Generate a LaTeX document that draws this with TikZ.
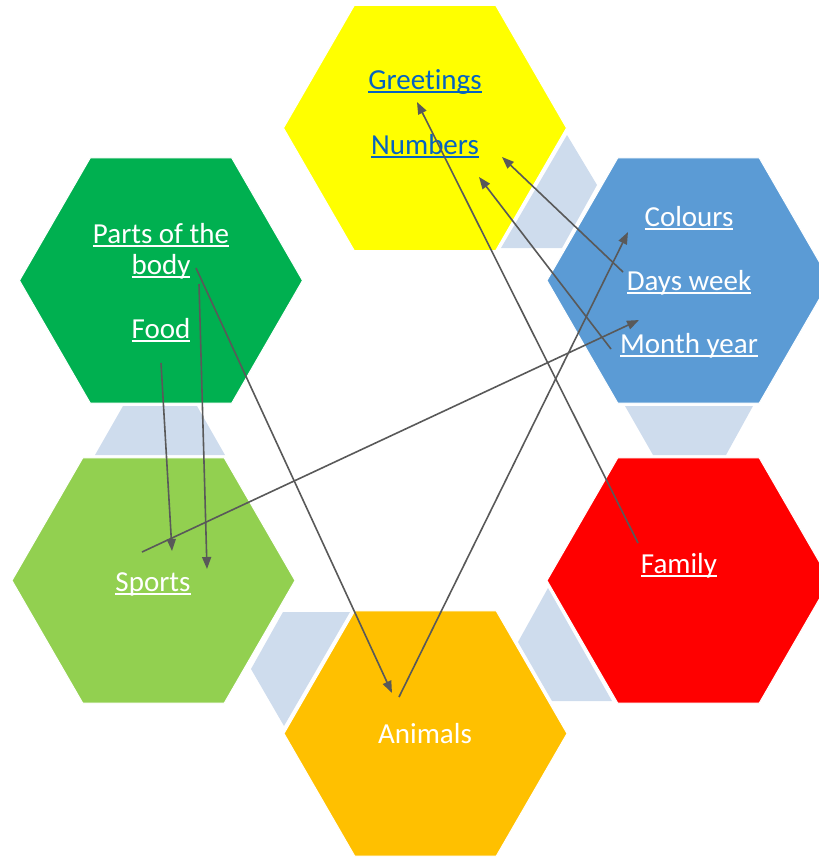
\documentclass[tikz,border=0pt]{standalone}
\usepackage{fontspec}
\setmainfont{Carlito}[Ligatures=NoCommon]
\usetikzlibrary{shapes.geometric,arrows.meta}
\definecolor{hexYellow}{HTML}{FFFF00}
\definecolor{hexBlue}{HTML}{5B9BD5}
\definecolor{hexDkGreen}{HTML}{00B050}
\definecolor{hexLtGreen}{HTML}{92D050}
\definecolor{hexOrange}{HTML}{FFC000}
\definecolor{hexRed}{HTML}{FF0000}
\definecolor{connBlue}{HTML}{CEDCED}
\definecolor{linkBlue}{HTML}{0563C1}
\definecolor{arrowGrey}{HTML}{595959}
\newcommand\ulin[1]{\setbox0\hbox{#1}\rlap{\rule[-4pt]{\wd0}{1.7pt}}\box0}
\begin{document}
\begin{tikzpicture}[x=1pt,y=-1pt,font=\fontsize{29}{32}\selectfont,line join=round,>={Triangle[length=12pt,width=9pt]},
	hexa/.style={regular polygon,regular polygon sides=6,minimum size=283pt,inner sep=0pt,draw=white,line width=1pt},
	lbl/.style={anchor=base,text=white,inner sep=0pt},
	link/.style={->,draw=arrowGrey,fill=arrowGrey,line width=1.6pt}]
		\useasboundingbox (0,0) rectangle (819,857);
		\fill[connBlue] (567,135)--(597,185)--(562,248)--(501,248)--cycle (625,406)--(753,406)--(726,455)--(653,455)--cycle
		(548,588)--(612,701)--(552,701)--(518,642)--cycle (350,612)--(284,726)--(251,669)--(283,612)--cycle
		(95,455)--(225,455)--(197,406)--(123,406)--cycle;
		\node[hexa,fill=hexYellow] (yel) at (425,128) {};
		\node[hexa,fill=hexBlue] (blu) at (688.5,280.5) {};
		\node[hexa,fill=hexDkGreen] (dkg) at (161,280.5) {};
		\node[hexa,fill=hexLtGreen] (ltg) at (153.5,580.5) {};
		\node[hexa,fill=hexRed] (red) at (688.5,580.5) {};
		\node[hexa,fill=hexOrange] (ora) at (425.5,733.5) {};
		\node[lbl,text=linkBlue] (greT) at (425,89) {\ulin{Greetings}};
		\node[lbl,text=linkBlue] (numT) at (425,154) {\ulin{Numbers}};
		\node[lbl] (colT) at (689,226) {\ulin{Colours}};
		\node[lbl] (dayT) at (689,290) {\ulin{Days week}};
		\node[lbl] (monT) at (689,353) {\ulin{Month year}};
		\node[lbl] (parT) at (161,243) {\ulin{Parts of the}};
		\node[lbl] (bodT) at (161,274) {\ulin{body}};
		\node[lbl] (fooT) at (161,338) {\ulin{Food}};
		\node[lbl] (spoT) at (153,591) {\ulin{Sports}};
		\node[lbl] (famT) at (679,573) {\ulin{Family}};
		\node[lbl] (aniT) at (425,743) {Animals};
		\coordinate (famS) at (638,543); \coordinate (greE) at (417,102);
		\coordinate (dayS) at (623,272); \coordinate (numE) at (502,157);
		\coordinate (monS) at (611,349); \coordinate (numF) at (479,177);
		\coordinate (aniS) at (399,697); \coordinate (colE) at (628,232);
		\coordinate (spoS) at (142,552); \coordinate (monE) at (639,320);
		\coordinate (fooS) at (161,363); \coordinate (spoE) at (172,551);
		\coordinate (bodS) at (199,284); \coordinate (spoF) at (207,569);
		\coordinate (bodR) at (196,268); \coordinate (aniE) at (392,693);
		\draw[link] (famS)--(greE); \draw[link] (dayS)--(numE); \draw[link] (monS)--(numF); \draw[link] (aniS)--(colE);
		\draw[link] (spoS)--(monE); \draw[link] (fooS)--(spoE); \draw[link] (bodS)--(spoF); \draw[link] (bodR)--(aniE);
\end{tikzpicture}
\end{document}
